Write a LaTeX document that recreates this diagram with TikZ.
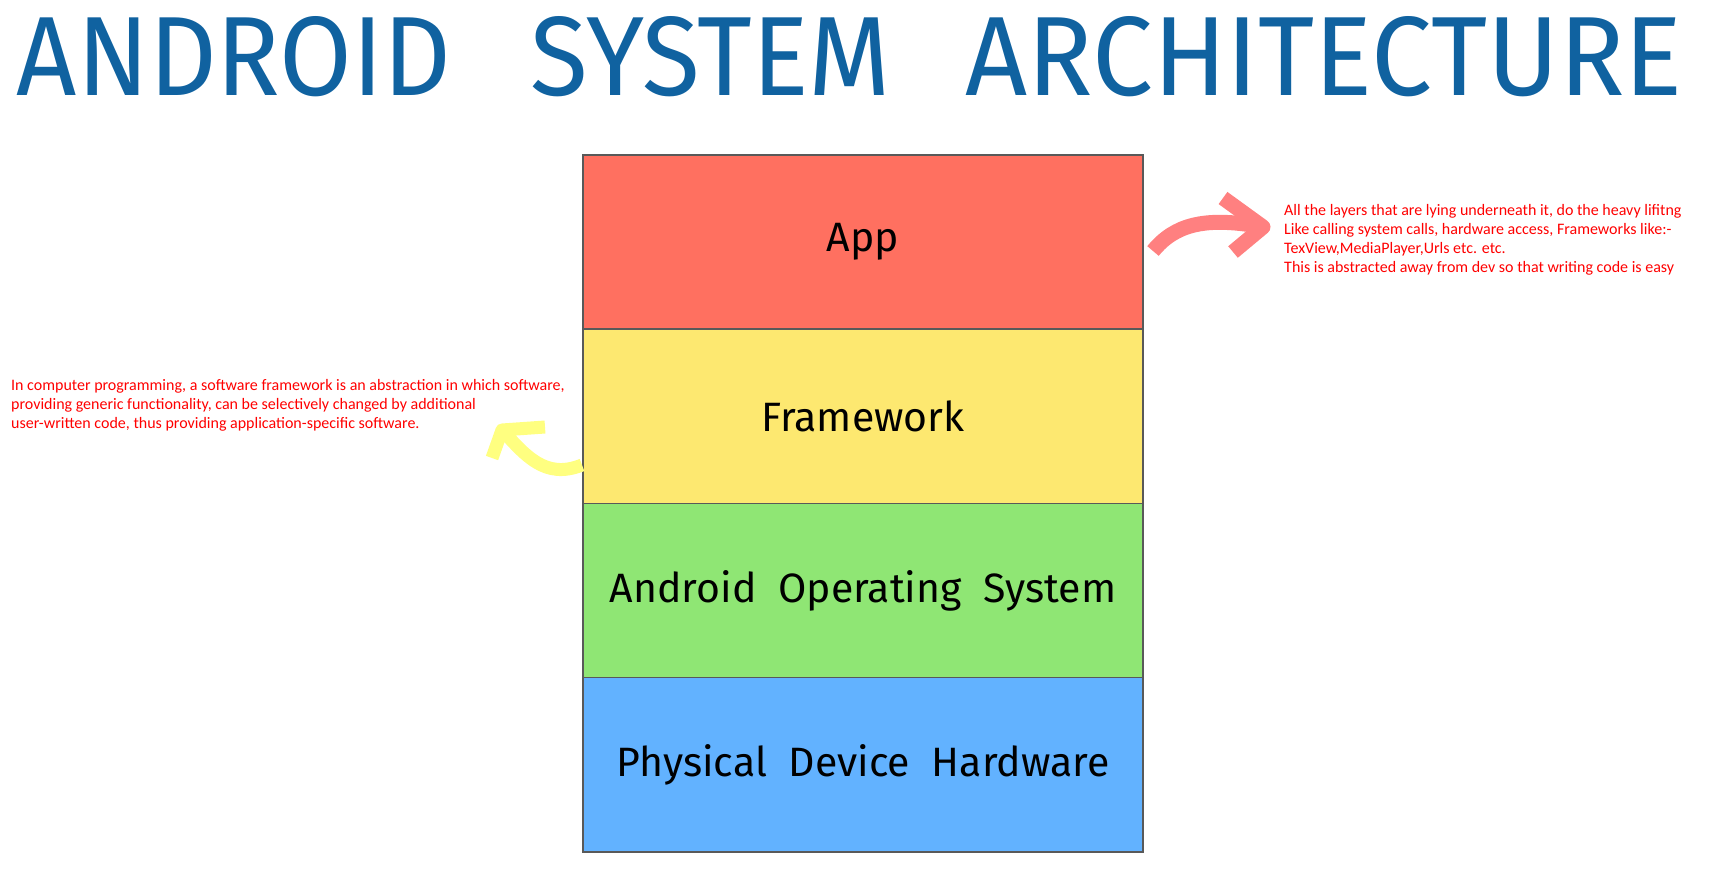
\documentclass[tikz,border=0pt]{standalone}
\usepackage{fontspec}
\usepackage{graphicx}
\setmainfont{Fira Sans}
\newfontfamily\notefont{Carlito}
\usetikzlibrary{positioning}

\definecolor{titleblue}{RGB}{16,98,160}
\definecolor{appred}{RGB}{255,112,96}
\definecolor{fwyellow}{RGB}{253,232,112}
\definecolor{osgreen}{RGB}{143,230,116}
\definecolor{hwblue}{RGB}{98,178,255}
\definecolor{curlpink}{RGB}{255,128,128}
\definecolor{curlyellow}{RGB}{255,255,128}
\definecolor{notered}{RGB}{255,0,0}

\tikzset{
  titleword/.style={inner sep=0pt, text=titleblue},
  layer/.style={rectangle, draw=black!65, line width=1.5pt, outer sep=0pt,
    minimum width=560pt, minimum height=174.25pt, inner sep=0pt,
    font=\fontsize{41}{48}\selectfont},
  note/.style={anchor=north west, inner sep=0pt, align=left, text=notered,
    font=\notefont\fontsize{16}{19}\selectfont},
  pinkcurl/.style={draw=curlpink, line width=15pt, line join=round},
  yellowcurl/.style={draw=curlyellow, line width=13pt, line join=round}
}

\begin{document}
\begin{tikzpicture}[x=1pt,y=-1pt]
  \useasboundingbox (0,0) rectangle (1726,892);

  % title
  \node[titleword] (android) at (234,57) {\resizebox{434pt}{79pt}{ANDROID}};
  \node[titleword] (system) at (711,57) {\resizebox{360pt}{79pt}{SYSTEM}};
  \node[titleword] (architecture) at (1324,57) {\resizebox{717pt}{79pt}{ARCHITECTURE}};

  % layers
  \node[layer, fill=appred] (app) at (863,242) {App};
  \node[layer, fill=fwyellow, below=0pt of app] (framework) {Framework};
  \node[layer, fill=osgreen, below=0pt of framework] (os) {Android\ \ Operating\ \ System};
  \node[layer, fill=hwblue, below=0pt of os] (hardware) {Physical\ \ Device\ \ Hardware};

  % notes
  \node[note] (appnote) at (1284,204) {All the layers that are lying underneath it, do the heavy lifitng\\
    Like calling system calls, hardware access, Frameworks like:-\\
    TexView,MediaPlayer,Urls etc. etc.\\
    This is abstracted away from dev so that writing code is easy};
  \node[note] (fwnote) at (11,379) {In computer programming, a software framework is an abstraction in which software,\\
    providing generic functionality, can be selectively changed by additional\\
    user-written code, thus providing application-specific software.};

  % curly arrows
  \coordinate (apptail) at (1153,251);
  \coordinate (apptip) at (1263,227);
  \draw[pinkcurl] (apptail) .. controls (1175,224) and (1205,218) .. (1252,225);
  \draw[pinkcurl] (1223,198) -- (apptip) -- (1233,252);

  \coordinate (fwtail) at (582,465);
  \coordinate (fwtip) at (502,430);
  \draw[yellowcurl] (fwtail) .. controls (545,480) and (525,455) .. (fwtip);
  \draw[yellowcurl] (492,458) -- (fwtip) -- (545,427);
\end{tikzpicture}
\end{document}
